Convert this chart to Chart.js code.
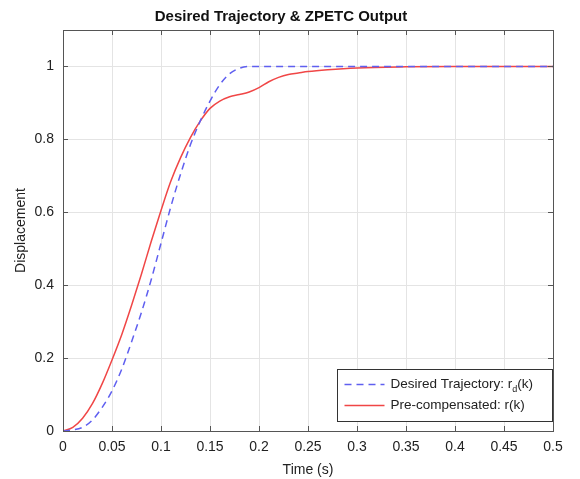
<!DOCTYPE html>
<html>
<head>
<meta charset="utf-8">
<script src="https://cdn.jsdelivr.net/npm/chart.js@4"></script>
<style>
  html, body { margin: 0; padding: 0; background: #fff; }
  #wrap { width: 580px; height: 479px; }
</style>
</head>
<body>
<div id="wrap"><canvas id="trajChart" width="580" height="479"></canvas></div>
<script>
// time samples (s)
const time = [0, 0.01, 0.02, 0.03, 0.04, 0.05, 0.06, 0.07, 0.08, 0.09,
  0.10, 0.11, 0.12, 0.13, 0.14, 0.15, 0.16, 0.17, 0.18, 0.19,
  0.20, 0.21, 0.22, 0.23, 0.24, 0.25, 0.27, 0.30, 0.35, 0.40, 0.45, 0.50];

// desired trajectory r_d(k)
const desired = [0, 0.003, 0.01, 0.03, 0.065, 0.11, 0.17, 0.245, 0.325, 0.415,
  0.515, 0.615, 0.705, 0.785, 0.85, 0.905, 0.95, 0.98, 0.995, 1.0,
  1.0, 1.0, 1.0, 1.0, 1.0, 1.0, 1.0, 1.0, 1.0, 1.0, 1.0, 1.0];

// pre-compensated r(k)
const precomp = [0, 0.01, 0.035, 0.075, 0.13, 0.195, 0.265, 0.345, 0.43, 0.52,
  0.605, 0.685, 0.75, 0.805, 0.85, 0.885, 0.905, 0.917, 0.923, 0.93,
  0.942, 0.958, 0.97, 0.978, 0.982, 0.986, 0.991, 0.996, 0.999, 1.0, 1.0, 1.0];

const xTicks = [0, 0.05, 0.1, 0.15, 0.2, 0.25, 0.3, 0.35, 0.4, 0.45, 0.5];
const yTicks = [0, 0.2, 0.4, 0.6, 0.8, 1];

const FONT = 'Arial, "Liberation Sans", sans-serif';

function pts(ys) {
  return time.map((t, i) => ({ x: t, y: ys[i] }));
}

// box around the axes + legend inside bottom-right
const boxAndLegend = {
  id: 'boxAndLegend',
  afterDraw(chart) {
    const c = chart.ctx;
    const a = chart.chartArea;
    c.save();
    c.strokeStyle = '#555';
    c.lineWidth = 1;
    c.strokeRect(Math.round(a.left) + 0.5, Math.round(a.top) + 0.5,
      Math.round(a.right - a.left), Math.round(a.bottom - a.top));

    // tick marks pointing inward (matlab style)
    c.beginPath();
    chart.scales.x.ticks.forEach((t, i) => {
      const px = Math.round(chart.scales.x.getPixelForTick(i)) + 0.5;
      c.moveTo(px, a.bottom); c.lineTo(px, a.bottom - 5);
      c.moveTo(px, a.top); c.lineTo(px, a.top + 5);
    });
    chart.scales.y.ticks.forEach((t, i) => {
      const py = Math.round(chart.scales.y.getPixelForTick(i)) + 0.5;
      c.moveTo(a.left, py); c.lineTo(a.left + 5, py);
      c.moveTo(a.right, py); c.lineTo(a.right - 5, py);
    });
    c.stroke();

    // legend
    const w = 215, h = 52;
    const lx = Math.round(a.right - w - 1) + 0.5;
    const ly = Math.round(a.bottom - h - 10) + 0.5;
    c.fillStyle = '#fff';
    c.fillRect(lx, ly, w, h);
    c.strokeStyle = '#333';
    c.strokeRect(lx, ly, w, h);

    const ds = chart.data.datasets;
    const rows = [ly + 15, ly + 36];
    ds.forEach((d, i) => {
      c.strokeStyle = d.borderColor;
      c.lineWidth = d.borderWidth;
      c.setLineDash(d.borderDash || []);
      c.beginPath();
      c.moveTo(lx + 7, rows[i]);
      c.lineTo(lx + 47, rows[i]);
      c.stroke();
    });
    c.setLineDash([]);
    c.fillStyle = '#222';
    c.font = '13.5px ' + FONT;
    c.textBaseline = 'middle';
    c.textAlign = 'left';
    let tx = lx + 53;
    const s1 = 'Desired Trajectory: r';
    c.fillText(s1, tx, rows[0]);
    tx += c.measureText(s1).width;
    c.font = '9px ' + FONT;
    c.fillText('d', tx, rows[0] + 5);
    tx += c.measureText('d').width;
    c.font = '13.5px ' + FONT;
    c.fillText('(k)', tx, rows[0]);
    c.fillText('Pre-compensated: r(k)', lx + 53, rows[1]);
    c.restore();
  }
};

new Chart(document.getElementById('trajChart').getContext('2d'), {
  type: 'line',
  data: {
    datasets: [{
      label: 'Desired Trajectory: r_d(k)',
      data: pts(desired),
      borderColor: 'rgb(95, 95, 240)',
      borderWidth: 1.5,
      borderDash: [7, 5],
      pointRadius: 0,
      cubicInterpolationMode: 'monotone',
      fill: false
    }, {
      label: 'Pre-compensated: r(k)',
      data: pts(precomp),
      borderColor: 'rgb(240, 70, 70)',
      borderWidth: 1.5,
      pointRadius: 0,
      cubicInterpolationMode: 'monotone',
      fill: false
    }]
  },
  options: {
    responsive: false,
    animation: false,
    layout: { padding: { left: 9, right: 27, top: 0, bottom: 0 } },
    plugins: {
      legend: { display: false },
      tooltip: { enabled: false },
      title: {
        display: true,
        text: 'Desired Trajectory & ZPETC Output',
        color: '#111',
        font: { family: FONT, size: 15, weight: 'bold' },
        padding: { top: 8, bottom: 4 }
      }
    },
    scales: {
      x: {
        type: 'linear',
        min: 0,
        max: 0.5,
        afterBuildTicks: s => { s.ticks = xTicks.map(v => ({ value: v })); },
        afterFit: s => { s.height = 48; },
        ticks: {
          color: '#222',
          font: { family: FONT, size: 14 },
          padding: 8,
          maxRotation: 0,
          callback: v => String(v)
        },
        grid: { color: '#e4e4e4', drawTicks: false },
        border: { display: false },
        title: {
          display: true,
          text: 'Time (s)',
          color: '#222',
          font: { family: FONT, size: 14 },
          padding: { top: 6, bottom: 0 }
        }
      },
      y: {
        min: 0,
        max: 1.1,
        afterBuildTicks: s => { s.ticks = yTicks.map(v => ({ value: v })); },
        afterFit: s => { s.width = 54; },
        ticks: {
          color: '#222',
          font: { family: FONT, size: 14 },
          padding: 9,
          callback: v => String(v)
        },
        grid: { color: '#e4e4e4', drawTicks: false },
        border: { display: false },
        title: {
          display: true,
          text: 'Displacement',
          color: '#222',
          font: { family: FONT, size: 14 },
          padding: { bottom: 2 }
        }
      }
    }
  },
  plugins: [boxAndLegend]
});
</script>
</body>
</html>
